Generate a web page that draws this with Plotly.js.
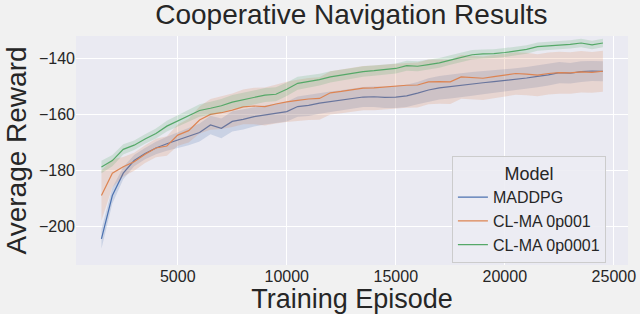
<!DOCTYPE html>
<html>
<head>
<meta charset="utf-8">
<script src="https://cdn.plot.ly/plotly-3.0.1.min.js"></script>
<style>html,body{margin:0;padding:0;background:#f1f1f1;}#chart{width:640px;height:314px;}</style>
</head>
<body>
<div id="chart"></div>
<script>
const episodes = [1500,2000,2500,3000,3500,4000,4500,5000,5500,6000,6500,7000,7500,8000,8500,9000,9500,10000,10500,11000,11500,12000,12500,13000,13500,14000,14500,15000,15500,16000,16500,17000,17500,18000,18500,19000,19500,20000,20500,21000,21500,22000,22500,23000,23500,24000,24500];

const maddpgMean = [-204.5,-189,-181,-176.5,-174,-172,-170.5,-169.2,-168,-166.5,-163.8,-165,-162.5,-161.8,-160.8,-160.2,-159.6,-159,-157.2,-156.8,-156,-155.5,-155,-154.4,-153.8,-153.7,-153.9,-153.8,-153.4,-152.4,-151.3,-150.5,-150,-149.6,-149.1,-148.7,-148.3,-147.9,-147.5,-147,-146.4,-145.9,-145.1,-145.3,-144.7,-144.5,-144.6];
const maddpgBand = [3.5,2.8,2.2,2,2,2.2,2.5,2.8,3,3.2,3.3,3.5,3.6,3.6,3.5,3.4,3.4,3.5,3.6,3.8,3.8,3.7,3.6,3.6,3.6,3.7,3.8,3.9,4,4,4.2,4.2,4.3,4.3,4.2,4.1,4,4,4,3.9,3.9,3.8,3.8,3.7,3.7,3.6,3.6];

const clma001Mean = [-189,-181,-178.7,-176.9,-174.2,-172,-171.3,-167.4,-165.8,-162,-160,-159.4,-158.5,-157.3,-157,-157.2,-156.3,-155.5,-155,-154.5,-154.3,-152.3,-151.8,-151.2,-150.6,-150.5,-150.2,-149.8,-149.6,-149.5,-148.4,-148.3,-148.4,-146.6,-146.9,-147.1,-146.5,-146,-145.4,-145.6,-146,-145.4,-145.1,-145.2,-144.8,-145,-144.6];
const clma001Band = [9,5,3.5,3.2,3.2,3.3,3.5,3.8,4.2,4.8,5.5,5.8,6,6.2,6.5,6.8,7,7.2,7.4,7.5,7.6,7.7,7.8,7.8,7.9,8,8,8,8,8,8,7.9,7.9,7.8,7.8,7.8,7.7,7.7,7.6,7.6,7.5,7.5,7.5,7.4,7.4,7.3,7.3];

const clma0001Mean = [-178.8,-176.5,-172.5,-171,-168.8,-166.8,-164.2,-162.3,-160.4,-158.6,-157.8,-156.9,-155.6,-154.7,-153.8,-153.1,-152.8,-151,-148.9,-148.3,-147.6,-146.6,-145.9,-145.3,-144.7,-144.4,-144,-143.6,-142.6,-142.8,-142.2,-141.6,-140.6,-139.6,-138.7,-138.4,-138.3,-137.9,-137.4,-136.8,-135.8,-135.6,-135.3,-135,-134.5,-135.2,-134.5];
const clma0001Band = [2.2,2,1.8,1.7,1.7,1.8,1.9,2,2.1,2.2,2.3,2.4,2.5,2.5,2.5,2.5,2.5,2.4,2.3,2.2,2.1,2,2,1.9,1.9,1.8,1.8,1.8,1.8,1.8,1.8,1.7,1.7,1.7,1.7,1.6,1.6,1.6,1.6,1.5,1.5,1.5,1.5,1.5,1.5,1.5,1.5];

const seriesNames = ["MADDPG","CL-MA 0p001","CL-MA 0p0001"];
const xTicks = [5000,10000,15000,20000,25000];
const yTicks = [-200,-180,-160,-140];

const series = [
  {name: seriesNames[0], mean: maddpgMean, band: maddpgBand, color: "#4c72b0", fill: "rgba(76,114,176,0.2)"},
  {name: seriesNames[1], mean: clma001Mean, band: clma001Band, color: "#dd8452", fill: "rgba(221,132,82,0.2)"},
  {name: seriesNames[2], mean: clma0001Mean, band: clma0001Band, color: "#55a868", fill: "rgba(85,168,104,0.2)"}
];

const traces = [];
series.forEach(s => {
  const lower = s.mean.map((m, i) => m - s.band[i]);
  const upper = s.mean.map((m, i) => m + s.band[i]);
  traces.push({x: episodes, y: lower, mode: "lines", line: {width: 0, color: s.color}, showlegend: false, hoverinfo: "skip"});
  traces.push({x: episodes, y: upper, mode: "lines", line: {width: 0, color: s.color}, fill: "tonexty", fillcolor: s.fill, showlegend: false, hoverinfo: "skip"});
  traces.push({x: episodes, y: s.mean, mode: "lines", name: s.name, line: {width: 1.2, color: s.color}});
});

const font = "Liberation Sans, Arial, sans-serif";
const layout = {
  width: 640, height: 314,
  margin: {l: 76, r: 12, t: 36, b: 49},
  paper_bgcolor: "#f1f1f1",
  plot_bgcolor: "#eaeaf2",
  font: {family: font, color: "#262626"},
  title: {text: "Cooperative Navigation Results", font: {size: 28, family: font, color: "#262626"}, x: 0.549, xanchor: "center", y: 0.955, yanchor: "middle", yref: "container"},
  xaxis: {
    range: [333, 25650], tickvals: xTicks, ticktext: xTicks.map(String),
    showgrid: true, gridcolor: "#ffffff", gridwidth: 1, zeroline: false, showline: false,
    tickfont: {size: 16}, ticks: "",
    title: {text: "Training Episode", font: {size: 27}, standoff: 7}
  },
  yaxis: {
    range: [-213.8, -132], tickvals: yTicks,
    showgrid: true, gridcolor: "#ffffff", gridwidth: 1, zeroline: false, showline: false,
    tickfont: {size: 16}, ticks: "",
    title: {text: "Average Reward", font: {size: 28}, standoff: 4}
  },
  legend: {
    x: 0.681, y: 0.477, xanchor: "left", yanchor: "top",
    traceorder: "normal",
    bgcolor: "rgba(236,236,243,0.9)", bordercolor: "#cccccc", borderwidth: 1,
    font: {size: 16}, title: {text: "Model", side: "top center", font: {size: 18}},
    tracegroupgap: 0
  },
  showlegend: true
};

Plotly.newPlot("chart", traces, layout, {displayModeBar: false, staticPlot: true});
</script>
</body>
</html>
